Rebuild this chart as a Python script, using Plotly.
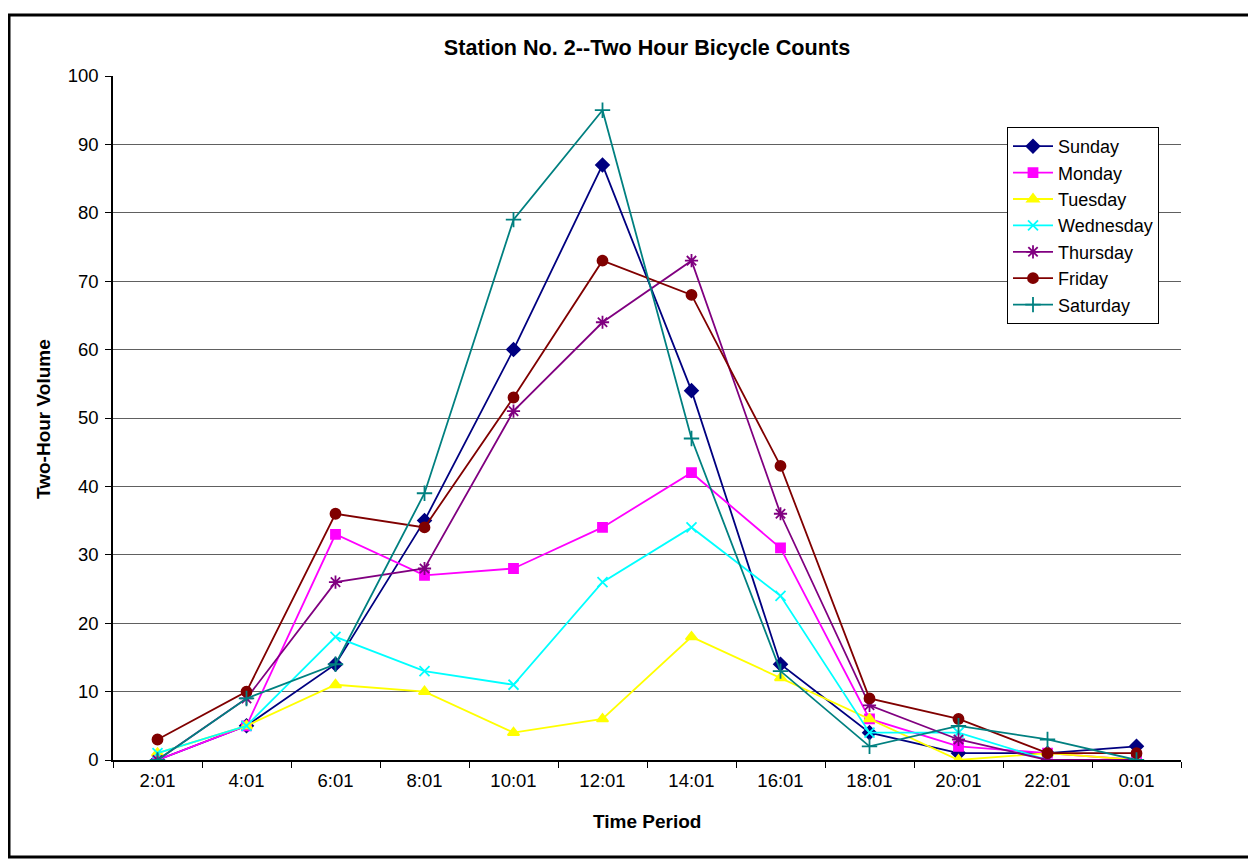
import plotly.graph_objects as go

periods = ["2:01", "4:01", "6:01", "8:01", "10:01", "12:01",
           "14:01", "16:01", "18:01", "20:01", "22:01", "0:01"]

sunday = [0, 5, 14, 35, 60, 87, 54, 14, 4, 1, 1, 2]
monday = [0, 5, 33, 27, 28, 34, 42, 31, 6, 2, 1, 0]
tuesday = [1, 5, 11, 10, 4, 6, 18, 12, 6, 0, 1, 0]
wednesday = [1, 5, 18, 13, 11, 26, 34, 24, 4, 4, 0, 0]
thursday = [0, 9, 26, 28, 51, 64, 73, 36, 8, 3, 0, 0]
friday = [3, 10, 36, 34, 53, 73, 68, 43, 9, 6, 1, 1]
saturday = [0, 9, 14, 39, 79, 95, 47, 13, 2, 5, 3, 0]

FONT = "Arial, Liberation Sans, sans-serif"

series = [
    ("Sunday", sunday, "#000080", "diamond", 10),
    ("Monday", monday, "#FF00FF", "square", 9),
    ("Tuesday", tuesday, "#FFFF00", "triangle-up", 10),
    ("Wednesday", wednesday, "#00FFFF", "x-thin-open", 10),
    ("Thursday", thursday, "#800080", "asterisk-open", 11),
    ("Friday", friday, "#800000", "circle", 10),
    ("Saturday", saturday, "#008080", "cross-thin-open", 11),
]

fig = go.Figure()
for name, vals, color, symbol, size in series:
    fig.add_trace(
        go.Scatter(
            x=periods,
            y=vals,
            name=name,
            mode="lines+markers",
            line=dict(color=color, width=1.8),
            marker=dict(symbol=symbol, size=size, color=color,
                        line=dict(color=color, width=1.8)),
        )
    )

# plot box on the page: x 113..1181, y 76..760 (page has an 8px body margin)
PX0, PW, PY0, PH = 113, 1068, 760, 684

fig.update_layout(
    width=1248,
    height=851,
    paper_bgcolor="white",
    plot_bgcolor="white",
    font=dict(family=FONT, size=18.5, color="black"),
    margin=dict(l=105, r=75, t=68, b=99),
    title=dict(
        text="<b>Station No. 2--Two Hour Bicycle Counts</b>",
        font=dict(size=21.6),
        x=0.5, xref="paper", xanchor="center",
        y=1 - 39 / 851, yanchor="middle",
    ),
    xaxis=dict(
        type="category",
        range=[-0.5, 11.5],
        showline=True, linecolor="black", linewidth=1.5,
        ticks="outside", ticklen=6, tickcolor="black",
        tickson="boundaries", ticklabelstandoff=3,
        showgrid=False, zeroline=False,
    ),
    yaxis=dict(
        range=[0, 100],
        dtick=10,
        showline=True, linecolor="black", linewidth=1.5,
        ticks="outside", ticklen=6, tickcolor="black",
        ticklabelstandoff=3,
        showgrid=True, gridcolor="#606060", gridwidth=1,
        zeroline=False,
    ),
    legend=dict(
        x=(1007 - PX0) / PW, y=(PY0 - 127) / PH,
        xanchor="left", yanchor="top",
        bordercolor="black", borderwidth=1, bgcolor="white",
        font=dict(size=18), itemwidth=40,
    ),
    showlegend=True,
)

fig.add_annotation(
    text="<b>Time Period</b>", xref="paper", yref="paper",
    x=0.5, y=-(821 - PY0) / PH, xanchor="center", yanchor="middle",
    showarrow=False, font=dict(size=19),
)
fig.add_annotation(
    text="<b>Two-Hour Volume</b>", xref="paper", yref="paper",
    x=-(PX0 - 43) / PW, y=(PY0 - 419) / PH, xanchor="center", yanchor="middle",
    textangle=-90, showarrow=False, font=dict(size=19),
)

fig.add_shape(
    type="rect", xref="paper", yref="paper",
    x0=(9 - PX0) / PW, x1=(1254 - PX0) / PW,
    y0=(PY0 - 857) / PH, y1=(PY0 - 15) / PH,
    line=dict(color="black", width=3),
)

fig.write_html("out.html")
